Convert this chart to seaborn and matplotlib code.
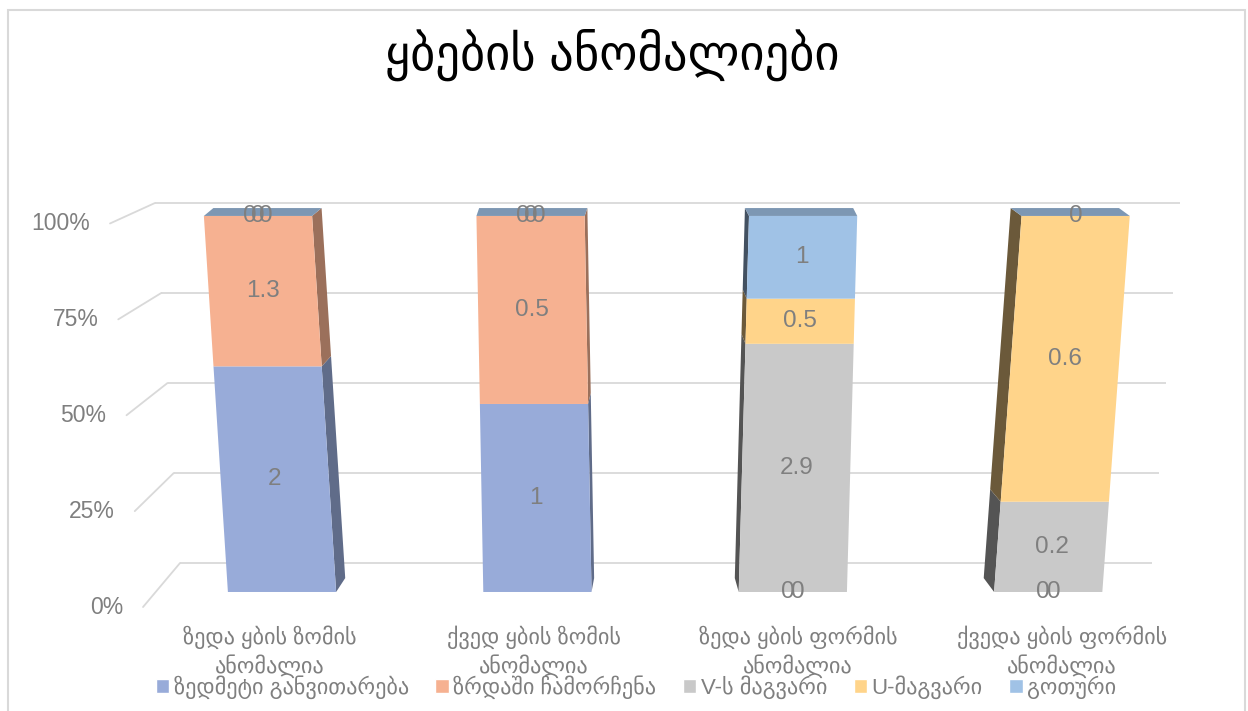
import numpy as np
import matplotlib
matplotlib.use('Agg')
import matplotlib.pyplot as plt
import matplotlib.transforms as mtransforms
from matplotlib.patches import Polygon, Patch, Rectangle
import seaborn as sns

###########################################################################################
# Data
###########################################################################################

categories = ['ზედა ყბის ზომის\nანომალია', 'ქვედ ყბის ზომის\nანომალია',
              'ზედა ყბის ფორმის\nანომალია', 'ქვედა ყბის ფორმის\nანომალია']
series_names = ['ზედმეტი განვითარება', 'ზრდაში ჩამორჩენა', 'V-ს მაგვარი',
                'U-მაგვარი', 'გოთური']
series_colors = ['#98ABD9', '#F6B191', '#C9C9C9', '#FFD48A', '#A0C2E6']

# share of each column, percent (as drawn)
share_over = [60, 50, 0, 0]
share_lag = [40, 50, 0, 0]
share_v = [0, 0, 66, 24]
share_u = [0, 0, 12, 76]
share_goth = [0, 0, 22, 0]

# numbers printed on the segments
label_over = ['2', '1', '0', '0']
label_lag = ['1.3', '0.5', '0', '0']
label_v = ['0', '0', '2.9', '0.2']
label_u = ['0', '0', '0.5', '0.6']
label_goth = ['0', '0', '1', '0']

y_ticks = [0, 25, 50, 75, 100]
y_tick_labels = ['0%', '25%', '50%', '75%', '100%']

title = 'ყბების ანომალიები'

###########################################################################################
# Setup
###########################################################################################

sns.set_style('white')
plt.rcParams['font.family'] = ['Liberation Sans', 'DejaVu Sans']
GREY_TXT = '#7F7F7F'
GRID = '#D9D9D9'

W, H = 1248, 711
fig = plt.figure(figsize=(W / 100, H / 100), dpi=100)
ax = fig.add_axes([100 / W, 91 / H, 1100 / W, 430 / H])
ax.set_xlim(-0.644, 3.523)
ax.set_ylim(-7.45, 106.9)


def px_x(px):
    # pixel column -> category units
    return (px - 270) / 264


# fake 3d perspective
vp = 1.40        # column under the viewer
lean = 0.065     # front face lean
depth = 0.027    # side depth
bar_w = 0.41


def skew(i):
    off = i - vp
    m = np.array([[1, lean * off / 100, -lean * off * 0.5], [0, 1, 0], [0, 0, 1]])
    return mtransforms.Affine2D(m) + ax.transData


def back_y(y):
    return 3.7 + 0.984 * y


def darken(c, f):
    r, g, b = matplotlib.colors.to_rgb(c)
    return (r * f, g * f, b * f)


# back wall grid + floor stubs + tick labels
for v, lab in zip(y_ticks, y_tick_labels):
    yb = 7.7 + 0.9575 * v
    xl = px_x(180 - 25 * v / 100)
    xr = px_x(1152 + 28 * v / 100)
    ax.plot([xl, xr], [yb, yb], color=GRID, lw=1.3, zorder=0, solid_capstyle='butt')
    yf = -4 + 1.02 * v
    xf = px_x(143 - 33 * v / 100)
    ax.plot([xf, xl], [yf, yb], color=GRID, lw=1.3, zorder=0)
    ax.text(xf - 20 / 264, yf, lab, ha='right', va='center', fontsize=16.5,
            color=GREY_TXT, clip_on=False)

###########################################################################################
# Bars
###########################################################################################

shares = [share_over, share_lag, share_v, share_u, share_goth]
labels = [label_over, label_lag, label_v, label_u, label_goth]

bottom = np.zeros(len(categories))
zeros = {}
for k, (sh, col, labs) in enumerate(zip(shares, series_colors, labels)):
    sh = np.array(sh, dtype=float)
    sns.barplot(x=categories, y=sh, bottom=bottom, color=col, width=bar_w,
                saturation=1, errorbar=None, linewidth=0, zorder=2, ax=ax)
    cont = ax.containers[-1]
    for i, bar in enumerate(cont):
        bar.set_transform(skew(i))
        b, t = bottom[i], bottom[i] + sh[i]
        if sh[i] > 0:
            dx = -depth * (i - vp)
            if dx > 0:
                edge, f = i + bar_w / 2, 0.63
            else:
                edge, f = i - bar_w / 2, 0.42
            poly = [(edge, b), (edge, t), (edge + dx, back_y(t)), (edge + dx, back_y(b))]
            ax.add_patch(Polygon(poly, closed=True, facecolor=darken(col, f), lw=0,
                                 transform=skew(i), zorder=1))
            ax.text(i, (b + t) / 2, labs[i], ha='center', va='center', fontsize=17.5,
                    color=GREY_TXT, transform=skew(i), zorder=4)
        else:
            zeros.setdefault((i, b), []).append(labs[i])
    bottom = bottom + sh

# top faces
for i in range(len(categories)):
    dx = -depth * (i - vp)
    xl, xr = i - bar_w / 2, i + bar_w / 2
    poly = [(xl, 100), (xr, 100), (xr + dx, back_y(100)), (xl + dx, back_y(100))]
    ax.add_patch(Polygon(poly, closed=True, facecolor=darken(series_colors[-1], 0.78),
                         lw=0, transform=skew(i), zorder=2))

# zero labels overlap, Excel nudges them a bit
for (i, y), labs in zeros.items():
    n = len(labs)
    step = 8 if n > 2 else 11
    for j, lab in enumerate(labs):
        off = (j - (n - 1) / 2) * step / 264
        ax.text(i + off, y, lab, ha='center', va='center', fontsize=17.5,
                color=GREY_TXT, transform=skew(i), zorder=4)

ax.set_xlim(-0.644, 3.523)
ax.set_ylim(-7.45, 106.9)
ax.set_xticks(range(len(categories)))
ax.set_xticklabels(categories, fontsize=16, color=GREY_TXT, linespacing=1.3)
ax.tick_params(axis='x', length=0, pad=4)
ax.set_yticks([])
ax.set_xlabel('')
ax.set_ylabel('')
for s in ax.spines.values():
    s.set_visible(False)

###########################################################################################
# Title, legend, frame
###########################################################################################

fig.text(612 / W, 1 - 55 / H, title, ha='center', va='center', fontsize=35, color='black')

handles = [Patch(facecolor=c, label=n) for c, n in zip(series_colors, series_names)]
fig.legend(handles=handles, loc='center', bbox_to_anchor=(636 / W, 24 / H), ncol=5,
           frameon=False, fontsize=16, handlelength=0.6, handleheight=0.6,
           handletextpad=0.2, columnspacing=1.2, labelcolor=GREY_TXT)

fig.add_artist(Rectangle((8 / W, -0.05), (1245 - 8) / W, 1.05 - 10 / H,
                         transform=fig.transFigure, fill=False, edgecolor=GRID, lw=1.5))

fig.savefig('out.png', dpi=100)
plt.close('all')
